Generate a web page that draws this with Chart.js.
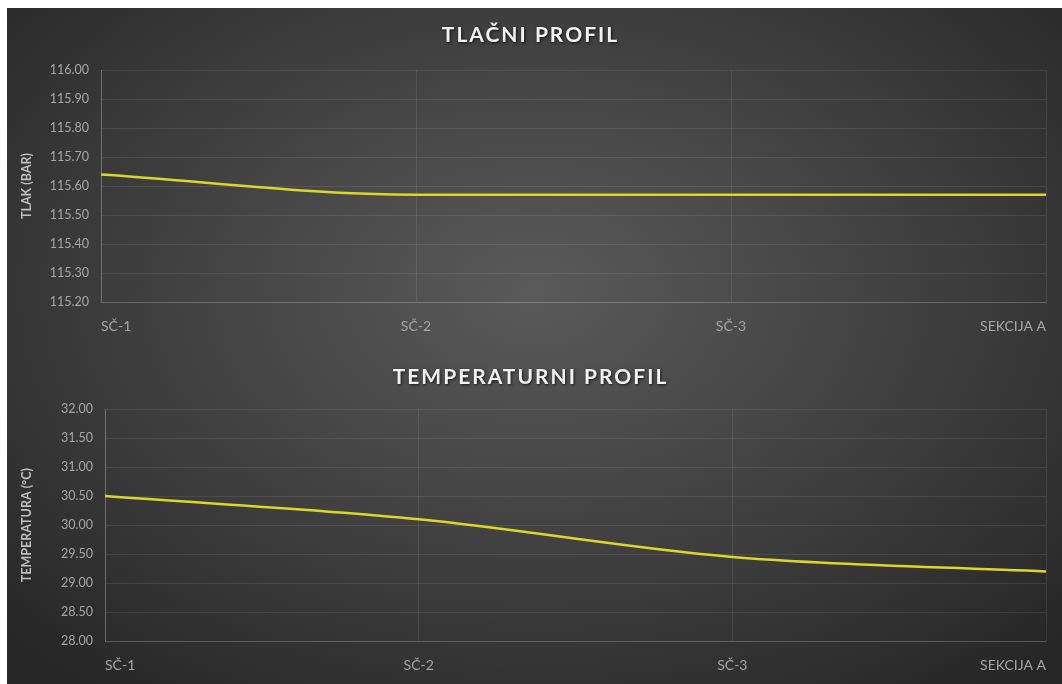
<!DOCTYPE html>
<html>
<head>
<meta charset="utf-8">
<script src="https://cdn.jsdelivr.net/npm/chart.js@4"></script>
<style>
  body { margin: 0; background: #fff; }
  #wrap {
    position: absolute; left: 7px; top: 8px; width: 1055px; height: 676px;
    background: radial-gradient(ellipse 70% 75% at 50% 42%, #5a5a5a 0%, #3e3e3e 55%, #262626 100%);
  }
  .box { position: relative; width: 1055px; height: 338px; }
</style>
</head>
<body>
<div id="wrap">
  <div class="box"><canvas id="tlak"></canvas></div>
  <div class="box"><canvas id="temp"></canvas></div>
</div>
<script>
var mjesta = ["SČ-1", "SČ-2", "SČ-3", "SEKCIJA A"];
var tlak = [115.64, 115.57, 115.57, 115.57];
var temperatura = [30.50, 30.10, 29.45, 29.20];

var fontFam = "Lato, 'Open Sans', sans-serif";
var sivaSlova = "#a6a6a6";
var mreza = "rgba(255,255,255,0.09)";
var zuta = "#d8d82a";

// naslov s razmakom slova i sjenom
var naslovPlugin = {
    id: 'naslov',
    afterDraw: function (chart, args, opts) {
        var ctx = chart.ctx;
        ctx.save();
        ctx.font = "bold 21px " + fontFam;
        ctx.letterSpacing = "2px";
        ctx.fillStyle = "#f2f2f2";
        ctx.textAlign = "center";
        ctx.textBaseline = "middle";
        ctx.shadowColor = "rgba(0,0,0,0.7)";
        ctx.shadowBlur = 3;
        ctx.shadowOffsetX = 1;
        ctx.shadowOffsetY = 1;
        ctx.fillText(opts.text, chart.width / 2 - 4, opts.y);
        ctx.restore();
    }
};

function napraviGraf(id, naslov, naslovY, yNaslov, podaci, min, max, korak, lijevo, gore, donji) {
    return new Chart(document.getElementById(id), {
        type: 'line',
        data: {
            labels: mjesta,
            datasets: [{
                data: podaci,
                borderColor: zuta,
                borderWidth: 2.5,
                pointRadius: 0,
                fill: false,
                cubicInterpolationMode: 'monotone'
            }]
        },
        plugins: [naslovPlugin],
        options: {
            responsive: true,
            maintainAspectRatio: false,
            animation: false,
            layout: { padding: { left: 0, right: 12, top: gore, bottom: donji } },
            plugins: {
                legend: { display: false },
                tooltip: { enabled: false },
                title: { display: false },
                naslov: { text: naslov, y: naslovY }
            },
            scales: {
                x: {
                    offset: false,
                    grid: { color: mreza, drawTicks: false },
                    border: { color: "rgba(255,255,255,0.15)" },
                    ticks: {
                        color: sivaSlova,
                        font: { family: fontFam, size: 14 },
                        padding: 16,
                        align: 'inner',
                        maxRotation: 0
                    }
                },
                y: {
                    min: min,
                    max: max,
                    grid: { color: mreza, drawTicks: false },
                    border: { color: "rgba(255,255,255,0.22)" },
                    ticks: {
                        stepSize: korak,
                        color: sivaSlova,
                        font: { family: fontFam, size: 12.5 },
                        padding: 12,
                        callback: function (v) { return v.toFixed(2); }
                    },
                    title: {
                        display: true,
                        text: yNaslov,
                        color: "#bfbfbf",
                        font: { family: fontFam, size: 12.5, weight: 'bold' },
                        padding: { top: 12, bottom: 0 }
                    },
                    afterFit: function (scale) { scale.width = lijevo; }
                }
            }
        }
    });
}

napraviGraf("tlak", "TLAČNI PROFIL", 27, "TLAK (BAR)", tlak, 115.2, 116.0, 0.1, 94, 62, -5);
napraviGraf("temp", "TEMPERATURNI PROFIL", 31, "TEMPERATURA (°C)", temperatura, 28, 32, 0.5, 98, 63, -6);
</script>
</body>
</html>
